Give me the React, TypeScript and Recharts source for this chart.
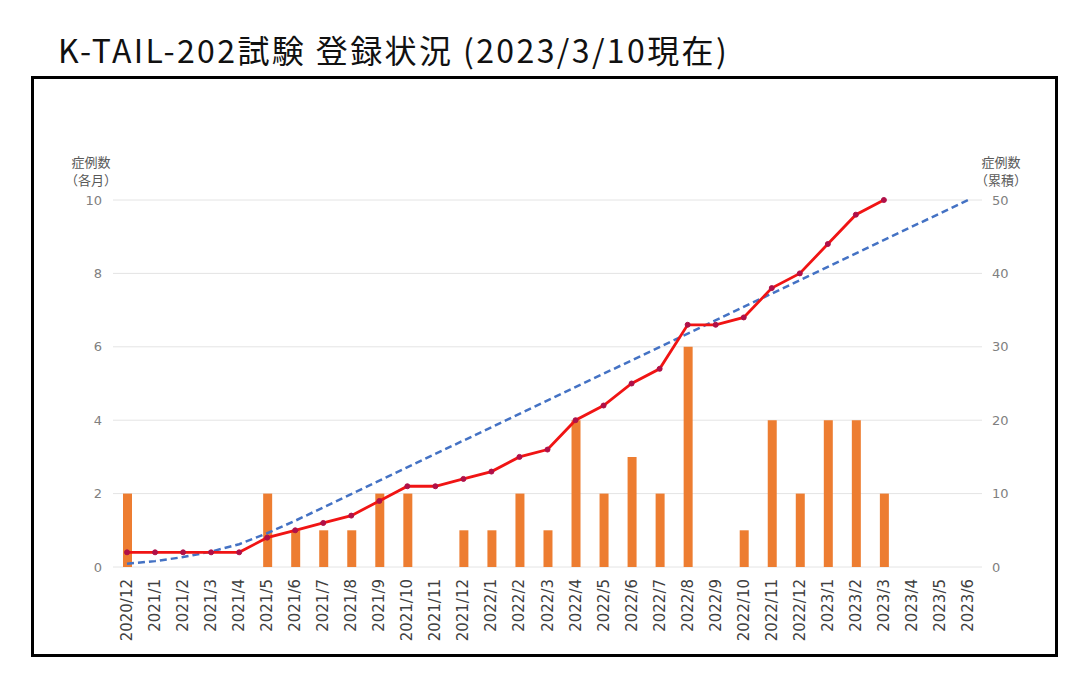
import React from 'react'
import { ComposedChart, Bar, Line, XAxis, YAxis, CartesianGrid } from 'recharts'

// months on the x axis
const months = [
  '2020/12', '2021/1', '2021/2', '2021/3', '2021/4', '2021/5', '2021/6', '2021/7',
  '2021/8', '2021/9', '2021/10', '2021/11', '2021/12', '2022/1', '2022/2', '2022/3',
  '2022/4', '2022/5', '2022/6', '2022/7', '2022/8', '2022/9', '2022/10', '2022/11',
  '2022/12', '2023/1', '2023/2', '2023/3', '2023/4', '2023/5', '2023/6',
]

// 症例数（各月）
const monthly = [
  2, 0, 0, 0, 0, 2, 1, 1, 1, 2, 2, 0, 1, 1, 2, 1,
  4, 2, 3, 2, 6, 0, 1, 4, 2, 4, 4, 2, null, null, null,
]

// 症例数（累積）
const cumulative = [
  2, 2, 2, 2, 2, 4, 5, 6, 7, 9, 11, 11, 12, 13, 15, 16,
  20, 22, 25, 27, 33, 33, 34, 38, 40, 44, 48, 50, null, null, null,
]

// 予定（累積）: read at the bends, straight between
const planned = [
  0.45, 0.8, 1.35, 2.1, 3.1, 4.6, 6.3, null, null, null, null, null, null, null, null, null,
  null, null, null, null, null, null, null, null, null, null, null, null, null, null, 50,
]

const leftTicks = [0, 2, 4, 6, 8, 10]
const rightTicks = [0, 10, 20, 30, 40, 50]

const data = months.map((month, i) => ({
  month,
  monthly: monthly[i],
  cumulative: cumulative[i],
  planned: planned[i],
}))

const FONT = "'DejaVu Sans', sans-serif"
const JP = "'Noto Sans CJK JP', sans-serif"

function MonthTick({ x, y, payload }: any) {
  const ty = y + 6
  return (
    <text
      x={x}
      y={ty}
      transform={`rotate(-90 ${x} ${ty})`}
      textAnchor="end"
      dominantBaseline="central"
      fontSize={15}
      fontFamily={FONT}
      fill="#404040"
    >
      {payload.value}
    </text>
  )
}

export default function App() {
  return (
    <div style={{ position: 'absolute', left: 0, top: 0, width: 1078, height: 675, background: '#fff' }}>
      <div
        style={{
          position: 'absolute',
          left: 58,
          top: 33,
          fontSize: 32,
          lineHeight: 1,
          letterSpacing: 2.4,
          fontFamily: JP,
          color: '#111',
          whiteSpace: 'nowrap',
        }}
      >
        K-TAIL-202試験 登録状況 (2023/3/10現在)
      </div>
      <div
        style={{
          position: 'absolute',
          left: 31,
          top: 76,
          width: 1027,
          height: 581,
          border: '3px solid #000',
          boxSizing: 'border-box',
        }}
      />
      <div style={{ position: 'absolute', left: 56, top: 153, width: 70, textAlign: 'center', fontFamily: JP, fontSize: 13, lineHeight: '18px', color: '#595959' }}>
        症例数
        <br />
        （各月）
      </div>
      <div style={{ position: 'absolute', left: 966, top: 153, width: 70, textAlign: 'center', fontFamily: JP, fontSize: 13, lineHeight: '18px', color: '#595959' }}>
        症例数
        <br />
        （累積）
      </div>
      <div style={{ position: 'absolute', left: 0, top: 0 }}>
        <ComposedChart width={1078} height={675} data={data} margin={{ top: 200, right: 0, bottom: 0, left: 0 }}>
          <CartesianGrid yAxisId="left" vertical={false} stroke="#e4e4e4" />
          <XAxis
            dataKey="month"
            interval={0}
            axisLine={false}
            tickLine={false}
            tickMargin={0}
            height={108}
            tick={<MonthTick />}
          />
          <YAxis
            yAxisId="left"
            domain={[0, 10]}
            ticks={leftTicks}
            width={113}
            axisLine={false}
            tickLine={false}
            tickMargin={5}
            tick={{ fontSize: 13, fill: '#808080', fontFamily: FONT }}
          />
          <YAxis
            yAxisId="right"
            orientation="right"
            domain={[0, 50]}
            ticks={rightTicks}
            width={96}
            axisLine={false}
            tickLine={false}
            tickMargin={4}
            tick={{ fontSize: 13, fill: '#808080', fontFamily: FONT }}
          />
          <Bar yAxisId="left" dataKey="monthly" fill="#ed7d31" barSize={9} isAnimationActive={false} />
          <Line
            yAxisId="right"
            type="linear"
            dataKey="planned"
            stroke="#4472c4"
            strokeWidth={2.5}
            strokeDasharray="7 4"
            dot={false}
            connectNulls
            isAnimationActive={false}
          />
          <Line
            yAxisId="right"
            type="linear"
            dataKey="cumulative"
            stroke="#f01414"
            strokeWidth={2.8}
            dot={{ r: 2.5, fill: '#b01048', stroke: '#b01048', strokeWidth: 1 }}
            isAnimationActive={false}
          />
        </ComposedChart>
      </div>
    </div>
  )
}
